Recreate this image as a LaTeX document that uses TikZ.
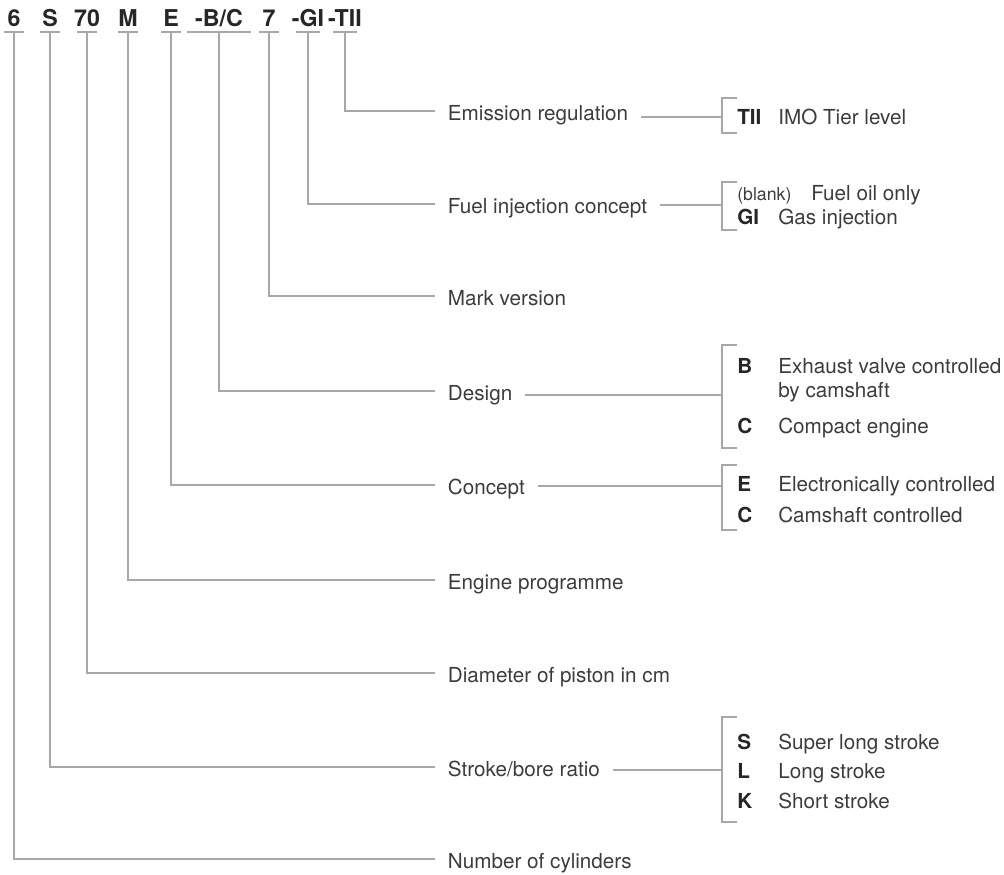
\documentclass[tikz,border=0pt]{standalone}
\usepackage{fontspec}
\setmainfont{TeX Gyre Heros}
\usetikzlibrary{positioning}
\definecolor{txt-grey}{HTML}{3C3C3C}
\definecolor{key-grey}{HTML}{262626}
\definecolor{line-grey}{HTML}{A8A8A8}

\begin{document}
\begin{tikzpicture}[x=0.025cm, y=-0.025cm,
	   conn/.style={draw=line-grey, line width=0.8pt},
	   hdr/.style={anchor=base, inner sep=0pt, font=\fontsize{16.5}{18}\selectfont\bfseries, text=key-grey},
	   lab/.style={anchor=west, inner xsep=9pt, inner ysep=0pt, text height=17pt, text depth=3pt, font=\fontsize{14.7}{17}\selectfont, text=txt-grey},
	   key/.style={anchor=west, inner sep=0pt, text height=13.6pt, text depth=3pt, font=\fontsize{14.7}{17}\selectfont\bfseries, text=key-grey},
	   desc/.style={anchor=west, inner sep=0pt, text height=13.6pt, text depth=3pt, font=\fontsize{14.7}{17}\selectfont, text=txt-grey}]
	  \useasboundingbox (0,0) rectangle (1004,874);
	  % type designation with underlines
	  \foreach \n/\t/\x/\w in {cyl/6/14/10, str/S/50/10, dia/70/87/10, prg/M/128/10, con/E/171/10, des/-B\slash C/219/32, mrk/7/269/10, fue/-GI/308/12, emi/-TII/345/12} {
	    \node[hdr] (h\n) at (\x,27) {\t};
	    \coordinate (u\n) at (\x,32);
	    \draw[conn] ([xshift=-\w*0.025cm]u\n) -- ([xshift=\w*0.025cm]u\n);
	  }
	  % labels
	  \node[lab] (emis) at (435,111) {Emission regulation};
	  \node[lab] (fuel) at (435,204) {Fuel injection concept};
	  \node[lab] (mark) at (435,296) {Mark version};
	  \node[lab] (design) at (435,391) {Design};
	  \node[lab] (concept) at (435,485) {Concept};
	  \node[lab] (prog) at (435,580) {Engine programme};
	  \node[lab] (bore) at (435,673) {Diameter of piston in cm};
	  \node[lab] (stroke) at (435,767) {Stroke/bore ratio};
	  \node[lab] (cyl) at (435,859) {Number of cylinders};
	  \draw[conn] (uemi) |- (emis.west);
	  \draw[conn] (ufue) |- (fuel.west);
	  \draw[conn] (umrk) |- (mark.west);
	  \draw[conn] (udes) |- (design.west);
	  \draw[conn] (ucon) |- (concept.west);
	  \draw[conn] (uprg) |- (prog.west);
	  \draw[conn] (udia) |- (bore.west);
	  \draw[conn] (ustr) |- (stroke.west);
	  \draw[conn] (ucyl) |- (cyl.west);
	  % brackets
	  \coordinate (bEmis) at (722,117);
	  \coordinate (bFuel) at (722,205);
	  \coordinate (bDesign) at (722,395);
	  \coordinate (bConcept) at (722,486);
	  \coordinate (bStroke) at (722,770);
	  \draw[conn] (emis.east |- bEmis) -- (bEmis);
	  \draw[conn] (fuel.east |- bFuel) -- (bFuel);
	  \draw[conn] (design.east |- bDesign) -- (bDesign);
	  \draw[conn] (concept.east |- bConcept) -- (bConcept);
	  \draw[conn] (stroke.east |- bStroke) -- (bStroke);
	  \draw[conn] (737,98) -| (722,133) -- (737,133);
	  \draw[conn] (737,182) -| (722,230) -- (737,230);
	  \draw[conn] (737,345) -| (722,448) -- (737,448);
	  \draw[conn] (737,465) -| (722,530) -- (737,530);
	  \draw[conn] (737,717) -| (722,822) -- (737,822);
	  % options
	  \node[key] (kTII) at (737,117) {TII};
	  \node[desc] (dTII) at (778,117) {IMO Tier level};
	  \node[desc, font=\fontsize{12.6}{15}\selectfont] (kBlank) at (737,193) {(blank)};
	  \node[desc] (dBlank) at (811,193) {Fuel oil only};
	  \node[key] (kGI) at (737,217) {GI};
	  \node[desc] (dGI) at (778,217) {Gas injection};
	  \node[key] (kB) at (737,366) {B};
	  \node[desc] (dB) at (778,366) {Exhaust valve controlled};
	  \node[desc] (dB2) at (778,390) {by camshaft};
	  \node[key] (kC) at (737,426) {C};
	  \node[desc] (dC) at (778,426) {Compact engine};
	  \node[key] (kE) at (737,484) {E};
	  \node[desc] (dE) at (778,484) {Electronically controlled};
	  \node[key] (kCam) at (737,515) {C};
	  \node[desc] (dCam) at (778,515) {Camshaft controlled};
	  \node[key] (kS) at (737,742) {S};
	  \node[desc] (dS) at (778,742) {Super long stroke};
	  \node[key] (kL) at (737,771) {L};
	  \node[desc] (dL) at (778,771) {Long stroke};
	  \node[key] (kK) at (737,801) {K};
	  \node[desc] (dK) at (778,801) {Short stroke};
	\end{tikzpicture}
\end{document}
